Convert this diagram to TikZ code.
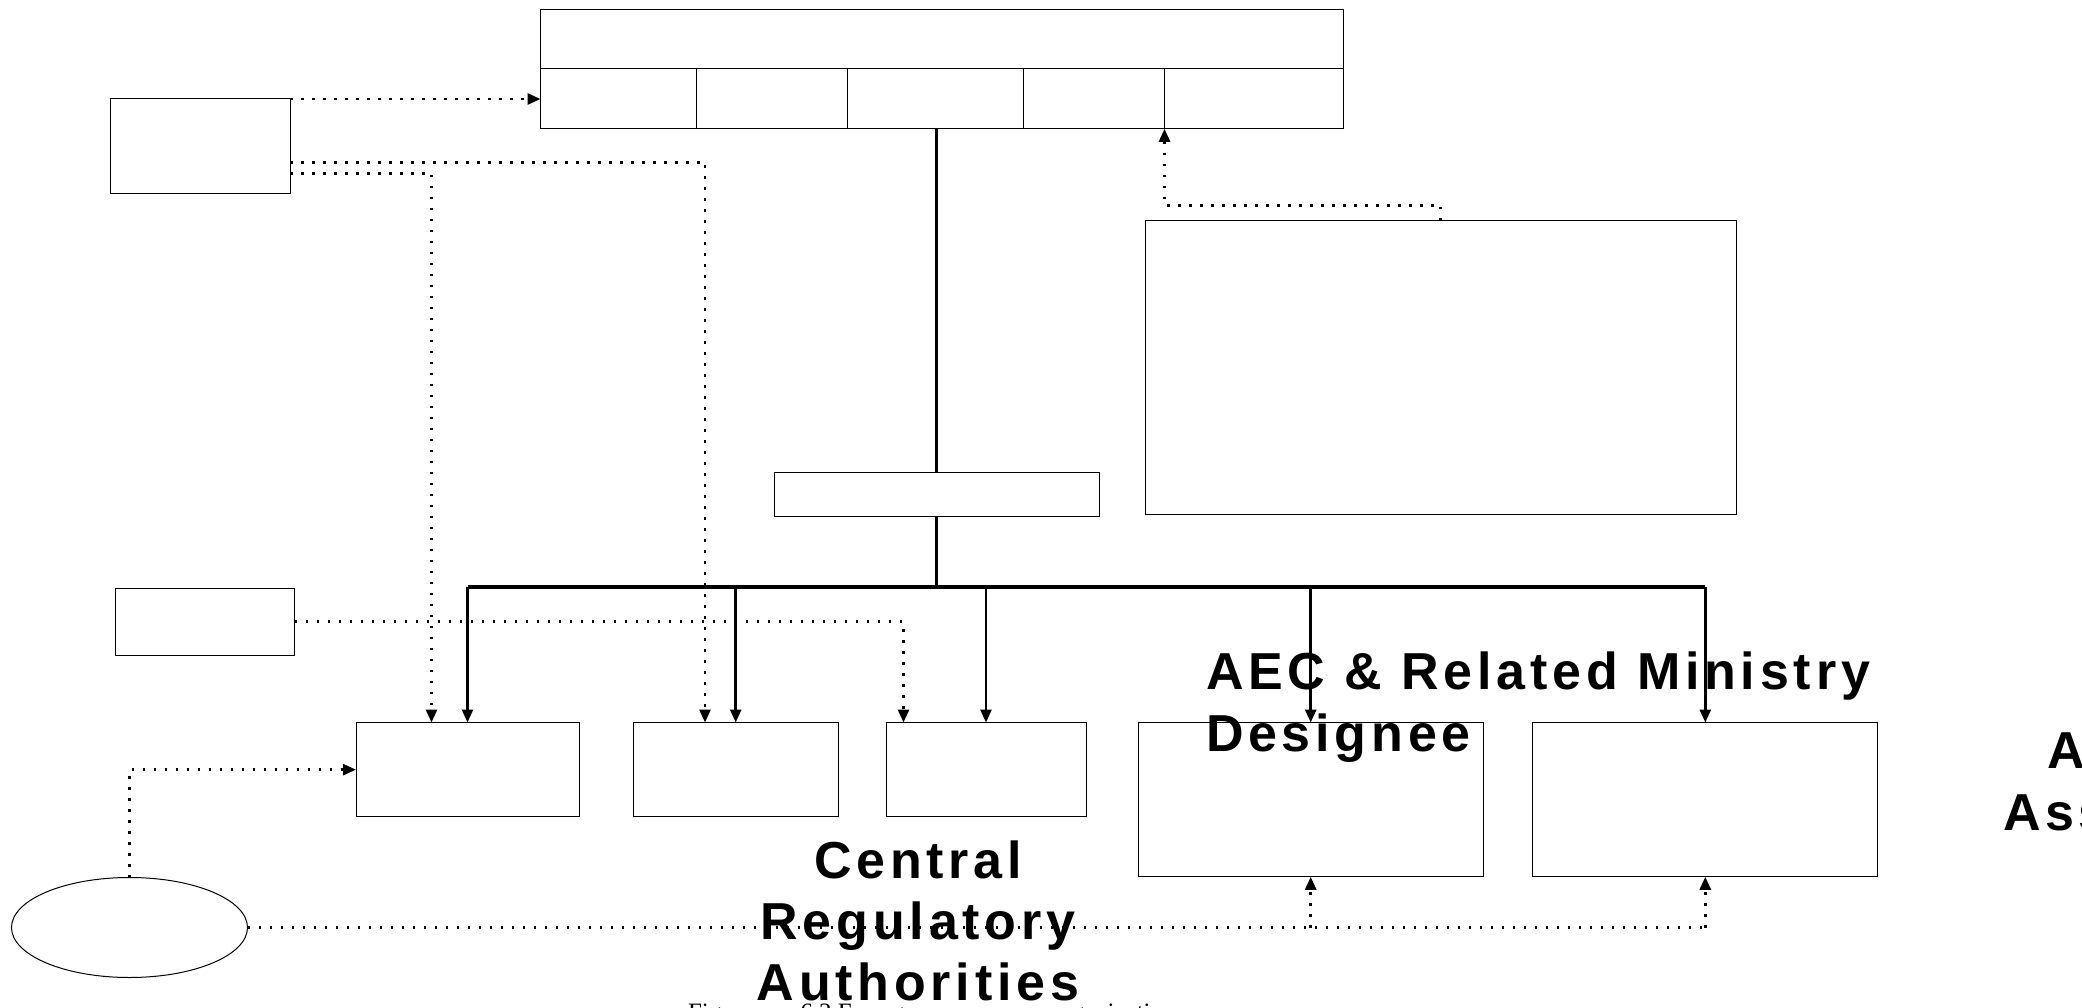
\documentclass[tikz,border=0pt]{standalone}
\usepackage{fontspec}
\newfontfamily\lblfont{Liberation Sans}[LetterSpace=9.2]
\newfontfamily\capfont{Liberation Serif}
\usetikzlibrary{arrows.meta,shapes.geometric}
\begin{document}
\begin{tikzpicture}[x=1pt,y=-1pt,
  boxs/.style={draw=black,line width=1pt,rectangle,inner sep=0pt,outer sep=0pt,anchor=north west},
  dots/.style={line width=2.8pt,dash pattern=on 2.6pt off 8.4pt},
  tipd/.style={-{Triangle[length=13pt,width=11pt]}},
  solidc/.style={line width=2.6pt},
  busline/.style={line width=3.2pt},
  lbl/.style={font=\lblfont\bfseries\fontsize{52}{61}\selectfont,inner sep=0pt,outer sep=0pt},
  capt/.style={font=\capfont\fontsize{25}{30}\selectfont,inner sep=0pt,outer sep=0pt}]
\useasboundingbox (0,0) rectangle (2082,1008);

% top structure
\node[boxs,minimum width=803.2pt,minimum height=59.7pt] (head) at (540.5,9.3) {};
\node[boxs,minimum width=155.5pt,minimum height=59.8pt] (c1) at (540.5,69) {};
\node[boxs,minimum width=151.3pt,minimum height=59.8pt] (c2) at (696,69) {};
\node[boxs,minimum width=175.7pt,minimum height=59.8pt] (c3) at (847.3,69) {};
\node[boxs,minimum width=141.5pt,minimum height=59.8pt] (c4) at (1023,69) {};
\node[boxs,minimum width=179.2pt,minimum height=59.8pt] (c5) at (1164.5,69) {};

% other boxes
\node[boxs,minimum width=180pt,minimum height=95pt] (lt) at (110,99) {};
\node[boxs,minimum width=325.5pt,minimum height=43.8pt] (sm) at (774,472.7) {};
\node[boxs,minimum width=591pt,minimum height=293.6pt] (big) at (1145,220.4) {};
\node[boxs,minimum width=179.3pt,minimum height=66.7pt] (lm) at (115.5,588.3) {};
\node[boxs,minimum width=223pt,minimum height=94.3pt] (B1) at (356,722.5) {};
\node[boxs,minimum width=204.6pt,minimum height=94.3pt] (B2) at (633.4,722.5) {};
\node[boxs,minimum width=200pt,minimum height=94.3pt] (B3) at (886,722.5) {};
\node[boxs,minimum width=345.4pt,minimum height=154.3pt] (B4) at (1138,722.5) {};
\node[boxs,minimum width=345pt,minimum height=154.3pt] (B5) at (1532.8,722.5) {};
\node[draw=black,line width=1pt,ellipse,inner sep=0pt,outer sep=0pt,minimum width=236pt,minimum height=100pt] (ell) at (129.5,927.5) {};

% helper coordinates
\coordinate (ltA) at (290,162.3);
\coordinate (ltB) at (290,173.3);
\coordinate (b1in) at (431.5,722.5);
\coordinate (b2in) at (705,722.5);
\coordinate (b3in) at (903.5,722.5);
\coordinate (bus) at (936.75,587);

% solid hierarchy
\draw[solidc] (sm.north |- c3.south) -- (sm.north);
\draw[solidc] (sm.south) -- (bus);
\draw[busline] (B1.north |- bus) -- (B5.north |- bus);
\foreach \b in {B1,B2,B3,B4,B5}
  \draw[solidc,tipd] (\b.north |- bus) -- (\b.north);

% dotted connectors
\draw[dots,tipd] (lt.north east) -- (lt.north east -| c1.west);
\draw[dots,tipd] (ltA) -| (b2in);
\draw[dots,tipd] (ltB) -| (b1in);
\draw[dots,tipd] (lm.east) -| (b3in);
\draw[dots,tipd] (big.north) -- ++(0,-15) -| (c5.south west);
\draw[dots,tipd] (ell.north) |- (B1.west);
\draw[dots] (ell.east) -- (B5.south |- ell.east);
\draw[dots,tipd] (B4.south |- ell.east) -- (B4.south);
\draw[dots,tipd] (B5.south |- ell.east) -- (B5.south);

% texts
\node[lbl,anchor=base west] (aec1) at (1206,689) {AEC \& Related Ministry};
\node[lbl,anchor=base west] (aec2) at (1206,751) {Designee};
\node[lbl,anchor=base] (cra1) at (918,878) {Central};
\node[lbl,anchor=base] (cra2) at (918,939) {Regulatory};
\node[lbl,anchor=base] (cra3) at (918,1000) {Authorities};
\node[lbl,anchor=base west] (rt1) at (2047,768) {A};
\node[lbl,anchor=base west] (rt2) at (2003,830) {Ass};
\node[capt,anchor=base west] (cap) at (688,1020.5) {Figure\hspace{47pt}6.2 Emergency response organization};
\end{tikzpicture}
\end{document}
